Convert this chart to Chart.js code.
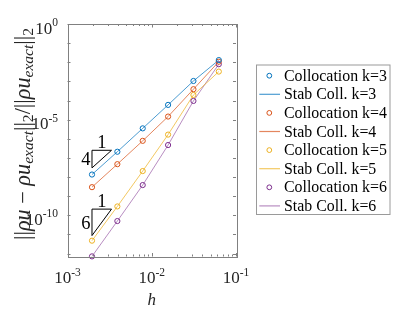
<!DOCTYPE html>
<html><head><meta charset="utf-8">
<script src="https://cdn.jsdelivr.net/npm/chart.js@4/dist/chart.umd.min.js"></script>
<style>html,body{margin:0;padding:0;background:#fff;}canvas{display:block;}</style>
</head><body>
<canvas id="c" width="415" height="312"></canvas>
<script>
// ---- data ----
const hValues = [1/512, 1/256, 1/128, 1/64, 1/32, 1/16];
const errK3 = [1.35e-8, 2.1e-7, 3.5e-6, 5.9e-5, 1.05e-3, 1.3e-2];
const errK4 = [2.95e-9, 4.7e-8, 7.8e-7, 1.45e-5, 3.9e-4, 1.07e-2];
const errK5 = [4.7e-12, 2.9e-10, 2.05e-8, 1.65e-6, 1.95e-4, 3.25e-3];
const errK6 = [7.1e-13, 5.0e-11, 3.8e-9, 4.7e-7, 9.5e-5, 7.9e-3];
const orders = [3, 4, 5, 6];
const xTickExponents = [-3, -2, -1];
const yTickExponents = [0, -5, -10];
const triangleRunLabels = ['1', '1'];
const triangleRiseLabels = ['4', '6'];
const triangleH = [[1/512, 3.33e-3], [1/512, 3.33e-3]];
const triangleErr = [[3.0e-8, 2.5e-7], [8.7e-12, 2.1e-10]];

const colors = ['#0072BD', '#D95319', '#EDB120', '#7E2F8E'];
const lineColors = ['rgba(0,114,189,0.7)', 'rgba(217,83,25,0.7)', 'rgba(237,177,32,0.7)', 'rgba(126,47,142,0.55)'];
const errSeries = [errK3, errK4, errK5, errK6];

const SERIF = '"Liberation Serif", "Times New Roman", serif';

const datasets = [];
orders.forEach((k, i) => {
  const pts = hValues.map((h, j) => ({x: h, y: errSeries[i][j]}));
  datasets.push({
    label: 'Collocation k=' + k, data: pts, showLine: false,
    borderColor: colors[i], backgroundColor: 'rgba(0,0,0,0)',
    pointBorderColor: colors[i], pointBackgroundColor: 'rgba(0,0,0,0)',
    pointRadius: 2.6, pointBorderWidth: 1, pointStyle: 'circle', clip: false, order: 0
  });
  datasets.push({
    label: 'Stab Coll. k=' + k, data: pts, showLine: true,
    borderColor: lineColors[i], backgroundColor: 'rgba(0,0,0,0)',
    borderWidth: 1, pointRadius: 0, tension: 0, clip: false, order: 1
  });
});

function drawPow(ctx, exp, x, y, align) {
  const mainF = '17px ' + SERIF, supF = '11.5px ' + SERIF;
  ctx.font = mainF; const w1 = ctx.measureText('10').width;
  ctx.font = supF; const s = String(exp); const w2 = ctx.measureText(s).width;
  const tot = w1 + w2;
  let x0 = align === 'center' ? x - tot / 2 : (align === 'right' ? x - tot : x);
  ctx.textAlign = 'left'; ctx.textBaseline = 'alphabetic'; ctx.fillStyle = '#262626';
  ctx.font = mainF; ctx.fillText('10', x0, y);
  ctx.font = supF; ctx.fillText(s, x0 + w1, y - 7.5);
}

const drawPlugin = {
  id: 'matlabLook',
  afterDraw(chart) {
    const ctx = chart.ctx;
    const {left, right, top, bottom} = chart.chartArea;
    const xs = chart.scales.x, ys = chart.scales.y;
    ctx.save();
    ctx.strokeStyle = '#808080'; ctx.lineWidth = 1;
    ctx.strokeRect(Math.round(left) + 0.5, Math.round(top) + 0.5, Math.round(right - left), Math.round(bottom - top));
    ctx.beginPath();
    for (let d = -3; d <= -1; d++) {
      for (let m = 1; m <= 9; m++) {
        const v = m * Math.pow(10, d);
        if (v > 0.1 + 1e-12) break;
        const px = Math.round(xs.getPixelForValue(v)) + 0.5;
        const len = m === 1 ? 3.5 : 2;
        ctx.moveTo(px, bottom); ctx.lineTo(px, bottom - len);
        ctx.moveTo(px, top); ctx.lineTo(px, top + len);
      }
    }
    for (let e = 0; e >= -12; e--) {
      const py = Math.round(ys.getPixelForValue(Math.pow(10, e))) + 0.5;
      ctx.moveTo(left, py); ctx.lineTo(left + 3, py);
      ctx.moveTo(right, py); ctx.lineTo(right - 3, py);
    }
    ctx.stroke();
    xTickExponents.forEach(e => drawPow(ctx, e, xs.getPixelForValue(Math.pow(10, e)), bottom + 26.5, 'center'));
    yTickExponents.forEach(e => drawPow(ctx, e, left - 9.5, ys.getPixelForValue(Math.pow(10, e)) + 9.5, 'right'));
    ctx.strokeStyle = '#000'; ctx.lineWidth = 1; ctx.fillStyle = '#000';
    triangleH.forEach((hh, i) => {
      const x0 = xs.getPixelForValue(hh[0]), x1 = xs.getPixelForValue(hh[1]);
      const y0 = ys.getPixelForValue(triangleErr[i][0]), y1 = ys.getPixelForValue(triangleErr[i][1]);
      ctx.beginPath(); ctx.moveTo(x0, y0); ctx.lineTo(x0, y1); ctx.lineTo(x1, y1); ctx.closePath(); ctx.stroke();
      ctx.font = '18.5px ' + SERIF; ctx.textAlign = 'center'; ctx.textBaseline = 'alphabetic';
      ctx.fillText(triangleRunLabels[i], (x0 + x1) / 2, y1 - 2);
      ctx.textAlign = 'right'; ctx.textBaseline = 'middle';
      ctx.fillText(triangleRiseLabels[i], x0 - 1.5, (y0 + y1) / 2 + 1.5);
    });
    ctx.fillStyle = '#262626';
    ctx.font = 'italic 17px ' + SERIF; ctx.textAlign = 'center'; ctx.textBaseline = 'alphabetic';
    ctx.fillText('h', (left + right) / 2, 305);
    const runs = [
      {t: '||', s: 'm', it: false}, {t: 'ρu', s: 'm', it: true}, {t: ' − ', s: 'm', it: false},
      {t: 'ρu', s: 'm', it: true}, {t: 'exact', s: 's', it: true}, {t: '||', s: 'm', it: false},
      {t: '2', s: 's', it: false}, {t: '/', s: 'm', it: false}, {t: '||', s: 'm', it: false},
      {t: 'ρu', s: 'm', it: true}, {t: 'exact', s: 's', it: true}, {t: '||', s: 'm', it: false},
      {t: '2', s: 's', it: false}
    ];
    const fontFor = (r, base) => (r.it ? 'italic ' : '') + (r.s === 'm' ? base : base * 0.7) + 'px ' + SERIF;
    let W = 0; runs.forEach(r => { ctx.font = fontFor(r, 16); W += ctx.measureText(r.t).width; });
    const base = 16 * 212 / W;
    let total = 0; runs.forEach(r => { ctx.font = fontFor(r, base); r.w = ctx.measureText(r.t).width; total += r.w; });
    ctx.translate(29.5, 134); ctx.rotate(-Math.PI / 2);
    let cx = -total / 2; ctx.textAlign = 'left'; ctx.textBaseline = 'alphabetic';
    runs.forEach(r => { ctx.font = fontFor(r, base); ctx.fillText(r.t, cx, r.s === 's' ? 3.2 : 0); cx += r.w; });
    ctx.setTransform(1, 0, 0, 1, 0, 0);
    const bx0 = 256, by0 = 64.5, bx1 = 390.5, by1 = 215;
    ctx.fillStyle = '#fff'; ctx.fillRect(bx0, by0, bx1 - bx0, by1 - by0);
    ctx.strokeStyle = '#9a9a9a'; ctx.lineWidth = 1; ctx.strokeRect(bx0 + 0.5, by0 + 0.5, bx1 - bx0 - 1, by1 - by0 - 1);
    ctx.font = '16px ' + SERIF; const mw = ctx.measureText('Collocation k=3').width;
    const lf = 16 * 103 / mw;
    chart.data.datasets.forEach((ds, i) => {
      const cy = 75.7 + i * 18.6;
      if (ds.showLine === false) {
        ctx.strokeStyle = ds.pointBorderColor; ctx.lineWidth = 1;
        ctx.beginPath(); ctx.arc(269.3, cy, 2.4, 0, Math.PI * 2); ctx.stroke();
      } else {
        ctx.strokeStyle = ds.borderColor; ctx.lineWidth = 1.2;
        ctx.beginPath(); ctx.moveTo(259.3, cy); ctx.lineTo(280, cy); ctx.stroke();
      }
      ctx.fillStyle = '#000'; ctx.font = lf + 'px ' + SERIF; ctx.textAlign = 'left'; ctx.textBaseline = 'middle';
      ctx.fillText(ds.label, 284, cy + 1);
    });
    ctx.restore();
  }
};

new Chart(document.getElementById('c'), {
  type: 'line',
  data: {datasets},
  options: {
    responsive: false, animation: false, devicePixelRatio: 1,
    layout: {padding: {left: 67.5, top: 24, right: 179, bottom: 55.5}},
    plugins: {legend: {display: false}, tooltip: {enabled: false}},
    scales: {
      x: {type: 'logarithmic', min: 1e-3, max: 1e-1, display: false},
      y: {type: 'logarithmic', min: 7e-13, max: 1, display: false}
    }
  },
  plugins: [drawPlugin]
});
</script>
</body></html>
